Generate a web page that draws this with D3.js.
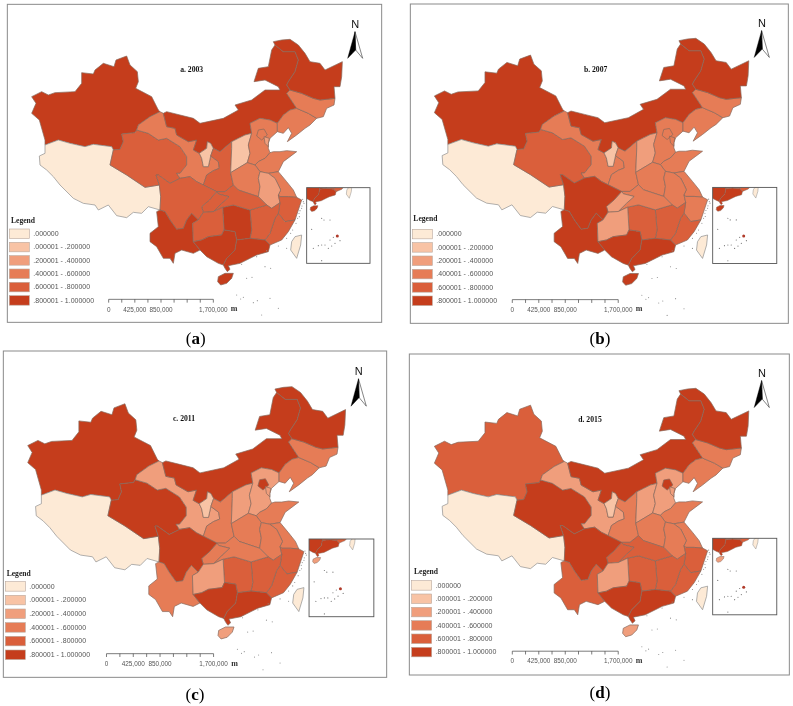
<!DOCTYPE html>
<html><head><meta charset="utf-8">
<script src="https://cdnjs.cloudflare.com/ajax/libs/d3/7.8.5/d3.min.js"></script>
<style>html,body{margin:0;padding:0;background:#fff}svg{display:block}</style>
</head><body><svg id="c" width="793" height="706"></svg>
<script>
const classColors=["#FDEAD6","#F8C3A5","#F09E7C","#E67C57","#DA5F3A","#C53E1C"];
const legendLabels=[".000000",".000001 - .200000",".200001 - .400000",".400001 - .600000",".600001 - .800000",".800001 - 1.000000"];
const panelTitles=["a. 2003","b. 2007","c. 2011","d. 2015"];
const captionLetters=["a","b","c","d"];
const scaleTicks=[0,212500,425000,637500,850000,1062500,1275000,1487500,1700000];
const scaleLabels=[0,425000,850000,1700000];
const provinces=["XJ","TB","QH","GS","IM","NX","SN","SX","HE","BJ","TJ","SD","HA","JS","AH","ZJ","FJ","JX","HN","HB","CQ","SC","YN","GZ","GX","GD","HI","TW","LN","JL","HL"];
const class2003=[5,0,4,3,5,1,4,1,3,3,2,3,3,3,2,4,4,4,5,4,4,4,5,4,5,5,5,0,3,3,5];
const class2007=[5,0,4,3,5,1,3,2,3,3,3,3,3,3,3,3,4,4,4,3,2,5,5,2,5,5,5,0,3,3,5];
const class2011=[5,0,5,2,5,1,3,2,2,5,2,3,3,3,3,4,4,4,4,3,3,5,3,2,5,5,2,0,3,3,5];
const class2015=[4,0,5,2,5,1,3,2,2,5,2,3,3,3,3,4,4,4,4,4,4,5,4,2,5,5,2,0,3,3,5];
// province outlines, in map units
const outlines={
XJ:[[95,290],[125,275],[145,285],[165,278],[225,275],[245,250],[245,218],[280,222],[285,210],[310,190],[342,200],[348,180],[380,168],[390,195],[412,215],[415,245],[407,265],[455,290],[475,330],[480,335],[450,350],[415,375],[410,390],[405,398],[365,402],[370,425],[360,448],[340,450],[335,440],[280,433],[255,440],[210,430],[175,420],[135,435],[135,420],[118,360],[95,340],[108,310]],
TB:[[135,435],[175,420],[210,430],[255,440],[280,433],[335,440],[340,450],[330,495],[380,525],[435,562],[478,555],[482,590],[480,630],[445,620],[425,640],[400,637],[380,653],[350,647],[325,615],[295,630],[285,615],[250,610],[220,595],[180,555],[160,530],[140,510],[120,495],[118,468],[135,460]],
QH:[[365,402],[405,398],[410,390],[445,400],[475,420],[500,415],[540,440],[560,470],[560,495],[540,520],[530,520],[540,535],[510,550],[475,525],[468,525],[478,555],[435,562],[380,525],[330,495],[340,450],[360,448],[370,425]],
GS:[[415,375],[450,350],[480,335],[490,340],[500,380],[525,385],[530,405],[565,425],[590,420],[580,450],[598,460],[605,475],[610,500],[625,500],[632,468],[655,485],[658,505],[640,512],[620,525],[610,555],[590,545],[570,530],[540,535],[530,520],[540,520],[560,495],[560,470],[540,440],[500,415],[475,420],[445,400],[410,390]],
IM:[[490,340],[500,335],[540,345],[580,355],[600,370],[670,355],[715,330],[705,315],[755,300],[795,270],[840,270],[835,260],[795,240],[762,245],[775,205],[805,200],[815,150],[825,135],[850,155],[885,155],[895,180],[885,215],[865,245],[860,255],[870,270],[860,280],[890,325],[870,330],[850,345],[832,370],[810,360],[780,355],[750,370],[755,400],[735,405],[715,415],[695,425],[660,455],[640,445],[632,430],[622,425],[620,445],[598,460],[580,450],[590,420],[565,425],[530,405],[525,385],[500,380]],
NX:[[598,460],[620,445],[622,425],[632,430],[640,445],[632,468],[625,500],[610,500],[605,475]],
SN:[[640,445],[660,455],[695,425],[695,445],[692,518],[700,555],[675,575],[650,575],[610,555],[620,525],[640,512],[658,505],[655,485],[632,468]],
SX:[[755,400],[745,435],[750,460],[742,488],[692,518],[695,445],[695,425],[715,415],[735,405]],
HE:[[750,370],[780,355],[810,360],[832,370],[832,395],[810,415],[805,430],[805,445],[810,458],[795,475],[775,485],[765,495],[742,488],[750,460],[745,435],[755,400]],
BJ:[[775,390],[792,387],[802,405],[785,420],[770,408]],
TJ:[[792,410],[808,415],[805,430],[805,440],[795,430]],
SD:[[765,495],[775,485],[795,475],[810,458],[820,455],[840,455],[860,452],[890,455],[870,470],[850,485],[835,515],[805,520],[780,515]],
HA:[[692,518],[742,488],[765,495],[780,515],[775,535],[780,560],[775,590],[715,570],[700,555]],
JS:[[805,520],[835,515],[860,545],[880,570],[890,592],[865,590],[840,590],[835,585],[842,570],[835,555],[825,535]],
AH:[[780,515],[805,520],[825,535],[835,555],[842,570],[835,585],[840,608],[815,625],[800,615],[775,590],[780,560],[775,535]],
ZJ:[[840,590],[865,590],[890,592],[905,600],[895,630],[885,660],[855,665],[835,640],[840,608],[835,585]],
FJ:[[835,640],[855,665],[885,660],[865,695],[845,720],[810,735],[795,720],[810,700],[825,655]],
JX:[[750,630],[800,615],[815,625],[840,608],[835,640],[825,655],[810,700],[795,720],[750,715],[755,690]],
HN:[[668,622],[700,615],[750,630],[755,690],[750,715],[710,720],[705,695],[672,690]],
HB:[[650,575],[675,575],[700,555],[715,570],[775,590],[800,615],[750,630],[700,615],[668,622],[640,635],[665,610],[687,590],[655,582]],
CQ:[[650,575],[655,582],[687,590],[665,610],[640,635],[610,637],[605,620],[628,600]],
SC:[[468,525],[475,525],[510,550],[540,535],[570,530],[590,545],[610,555],[650,575],[628,600],[605,620],[610,637],[595,660],[575,640],[560,660],[550,685],[530,688],[510,660],[495,635],[480,630],[482,590],[478,555]],
YN:[[480,630],[495,635],[510,660],[530,688],[550,685],[560,660],[575,640],[595,660],[578,670],[580,725],[600,750],[580,760],[545,750],[525,760],[520,790],[510,775],[490,775],[470,740],[450,725],[450,700],[475,680],[470,635]],
GZ:[[595,660],[610,637],[640,635],[668,622],[672,690],[665,705],[625,710],[605,720],[580,725],[578,670]],
GX:[[580,725],[605,720],[625,710],[665,705],[672,690],[705,695],[710,720],[705,750],[680,775],[670,795],[655,790],[620,770],[600,750]],
GD:[[710,720],[750,715],[795,720],[810,735],[805,755],[770,765],[750,775],[720,790],[685,797],[690,808],[682,815],[675,805],[670,795],[680,775],[705,750]],
HI:[[655,830],[675,820],[700,820],[695,835],[680,850],[662,855],[653,845]],
TW:[[885,710],[905,705],[902,735],[890,775],[872,750],[875,725]],
LN:[[832,370],[850,345],[870,330],[890,325],[925,340],[950,355],[930,375],[915,385],[890,405],[862,425],[875,400],[865,383],[850,400],[832,395]],
JL:[[870,270],[905,280],[940,295],[960,300],[1005,295],[1002,315],[980,325],[970,350],[950,355],[925,340],[890,325],[860,280]],
HL:[[825,135],[820,125],[845,120],[870,118],[895,135],[915,160],[930,185],[960,190],[975,210],[1027,185],[1025,230],[1020,260],[1002,260],[1005,295],[960,300],[940,295],[905,280],[870,270],[860,255],[865,245],[885,215],[895,180],[885,155],[850,155]]
};
const islands=[[795,800],[812,805],[710,885],[722,897],[730,892],[760,908],[772,902],[810,895],[835,925],[785,945],[740,835],[756,832],[905,625],[910,605],[898,650],[872,700],[860,745],[908,598],[912,610],[906,618],[900,632],[897,640],[893,655],[888,670],[878,690],[860,715],[835,738],[800,752],[770,770],[725,793]];
const insetIslands=[[965,655],[972,660],[990,660],[935,688],[940,745],[955,737],[965,735],[975,735],[990,720],[1000,712],[985,745],[995,738],[1020,722],[1005,730],[965,782]];
const insetRed=[[1012,708]];
const arrowLeft=[[1065,95],[1043,175],[1067,150]];
const arrowRight=[[1065,95],[1088,175],[1067,150]];
const inset={x0:920,x1:1110,y0:563,y1:790,ax:940,ay:627,hx:672,hy:840,k:0.495};
// panels: offset, map fit, frame, legend, title, caption (in zoomed source units)
const panels=[
{ox:0,oy:0,classes:class2003,sx:1,tx:0,sy:1,ty:0,frame:[22,13,1145,967],legX:28,legY:687,legStep:40,legTitle:[33,668],title:575,titleY:215,cap:[587,1033]},
{ox:395,oy:0,classes:class2007,sx:1.012,tx:22,sy:1.005,ty:-3.6,frame:[46,12,1180,970],legX:52,legY:688,legStep:40,legTitle:[55,664],title:602,titleY:216,cap:[615,1033]},
{ox:0,oy:350,classes:class2011,sx:1.023,tx:-14,sy:1.027,ty:-11.2,frame:[10,3,1160,982],legX:16,legY:695,legStep:41,legTitle:[20,679],title:552,titleY:213,cap:[585,1050]},
{ox:395,oy:350,classes:class2015,sx:1.012,tx:22,sy:1.011,ty:-4.3,frame:[43,12,1183,975],legX:50,legY:692,legStep:40,legTitle:[57,672],title:585,titleY:216,cap:[615,1045]}
];
const svg=d3.select("#c");
const soft=svg.append("defs").append("filter").attr("id","soft").attr("x",0).attr("y",0).attr("width",1).attr("height",1).attr("filterUnits","objectBoundingBox");
soft.append("feGaussianBlur").attr("stdDeviation",0.35);
const root=svg.append("g").attr("filter","url(#soft)");
root.append("rect").attr("width",793).attr("height",706).attr("fill","#fff");
const sans="'Liberation Sans',Arial,sans-serif",serif="'Liberation Serif','Times New Roman',serif";
const color=d3.scaleOrdinal().domain(d3.range(6)).range(classColors);
const edge=d=>d.c===0?"#8f8f8f":"#86685c";
panels.forEach((p,pi)=>{
  const g=root.append("g");
  const zx=d3.scaleLinear().domain([0,1200]).range([p.ox,p.ox+400]);
  const zy=d3.scaleLinear().domain([0,1200]).range([p.oy,p.oy+400]);
  const x=d3.scaleLinear().domain([0,1000]).range([zx(p.tx),zx(1000*p.sx+p.tx)]);
  const y=d3.scaleLinear().domain([0,1000]).range([zy(p.ty),zy(1000*p.sy+p.ty)]);
  const path=d3.line().x(d=>x(d[0])).y(d=>y(d[1])).curve(d3.curveLinearClosed);
  g.append("rect").attr("x",zx(p.frame[0])).attr("y",zy(p.frame[1])).attr("width",zx(p.frame[2])-zx(p.frame[0])).attr("height",zy(p.frame[3])-zy(p.frame[1])).attr("fill","#fff").attr("stroke","#8a8a8a").attr("stroke-width",1);
  const data=provinces.map((n,i)=>({n,c:p.classes[i]}));
  g.append("g").selectAll("path").data(data).join("path")
    .attr("d",d=>path(outlines[d.n])).attr("fill",d=>color(d.c)).attr("stroke",edge).attr("stroke-width",0.7).attr("stroke-linejoin","round");
  g.append("g").selectAll("circle").data(islands).join("circle").attr("cx",d=>x(d[0])).attr("cy",d=>y(d[1])).attr("r",0.55).attr("fill","#8c8c8c");
  g.append("text").attr("x",x(1066)).attr("y",y(85)).attr("text-anchor","middle").attr("font-family",sans).attr("font-size",11).attr("fill","#111").text("N");
  g.append("path").attr("d",path(arrowRight)).attr("fill","#fff").attr("stroke","#333").attr("stroke-width",0.6);
  g.append("path").attr("d",path(arrowLeft)).attr("fill","#000").attr("stroke","#000").attr("stroke-width",0.4);
  g.append("text").attr("x",zx(p.title)).attr("y",zy(p.titleY)).attr("text-anchor","middle").attr("font-family",serif).attr("font-weight","bold").attr("font-size",7.7).attr("fill","#111").text(panelTitles[pi]);
  // inset
  const ix=d3.scaleLinear().domain([inset.hx,inset.hx+100]).range([x(inset.ax),x(inset.ax+100*inset.k)]);
  const iy=d3.scaleLinear().domain([inset.hy,inset.hy+100]).range([y(inset.ay),y(inset.ay+100*inset.k)]);
  const ipath=d3.line().x(d=>ix(d[0])).y(d=>iy(d[1])).curve(d3.curveLinearClosed);
  const cid="ic"+pi;
  g.append("clipPath").attr("id",cid).append("rect").attr("x",x(inset.x0)).attr("y",y(inset.y0)).attr("width",x(inset.x1)-x(inset.x0)).attr("height",y(inset.y1)-y(inset.y0));
  g.append("rect").attr("x",x(inset.x0)).attr("y",y(inset.y0)).attr("width",x(inset.x1)-x(inset.x0)).attr("height",y(inset.y1)-y(inset.y0)).attr("fill","#fff");
  const ig=g.append("g").attr("clip-path",`url(#${cid})`);
  ig.selectAll("path").data(data).join("path").attr("d",d=>ipath(outlines[d.n])).attr("fill",d=>color(d.c)).attr("stroke",edge).attr("stroke-width",0.5);
  ig.selectAll("circle.i").data(insetIslands).join("circle").attr("class","i").attr("cx",d=>x(d[0])).attr("cy",d=>y(d[1])).attr("r",0.6).attr("fill","#777");
  ig.selectAll("circle.r").data(insetRed).join("circle").attr("class","r").attr("cx",d=>x(d[0])).attr("cy",d=>y(d[1])).attr("r",1.5).attr("fill","#B03A2A");
  g.append("rect").attr("x",x(inset.x0)).attr("y",y(inset.y0)).attr("width",x(inset.x1)-x(inset.x0)).attr("height",y(inset.y1)-y(inset.y0)).attr("fill","none").attr("stroke","#555").attr("stroke-width",0.9);
  // legend
  g.append("text").attr("x",zx(p.legTitle[0])).attr("y",zy(p.legTitle[1])).attr("font-family",serif).attr("font-weight","bold").attr("font-size",7.6).attr("fill","#222").text("Legend");
  legendLabels.forEach((t,i)=>{
    const ly=p.legY+i*p.legStep;
    g.append("rect").attr("x",zx(p.legX)).attr("y",zy(ly)).attr("width",20).attr("height",9.5).attr("fill",classColors[i]).attr("stroke","#b9a79c").attr("stroke-width",0.6);
    g.append("text").attr("x",zx(p.legX+72)).attr("y",zy(ly+21)).attr("font-family",sans).attr("font-size",7).attr("fill","#555").text(t);
  });
  // scale bar
  const sb=d3.scaleLinear().domain([0,1700000]).range([x(326),x(640)]);
  const barY=y(898);
  g.append("line").attr("x1",sb(0)).attr("x2",sb(1700000)).attr("y1",barY).attr("y2",barY).attr("stroke","#444").attr("stroke-width",0.7);
  g.selectAll("line.t").data(scaleTicks).join("line").attr("class","t").attr("x1",d=>sb(d)).attr("x2",d=>sb(d)).attr("y1",barY).attr("y2",barY+3.3).attr("stroke","#444").attr("stroke-width",0.7);
  g.selectAll("text.t").data(scaleLabels).join("text").attr("class","t").attr("x",d=>sb(d)).attr("y",y(933)+0.5).attr("text-anchor","middle").attr("font-family",sans).attr("font-size",6.4).attr("fill","#555").text(d=>d3.format(",")(d));
  g.append("text").attr("x",x(692)).attr("y",y(933)).attr("font-family",serif).attr("font-weight","bold").attr("font-size",8).attr("fill","#333").text("m");
  // caption
  const cap=g.append("text").attr("x",zx(p.cap[0])).attr("y",zy(p.cap[1])).attr("text-anchor","middle").attr("font-family",serif).attr("font-size",17).attr("fill","#000");
  cap.append("tspan").text("(");
  cap.append("tspan").attr("font-weight","bold").text(captionLetters[pi]);
  cap.append("tspan").text(")");
});
</script></body></html>
